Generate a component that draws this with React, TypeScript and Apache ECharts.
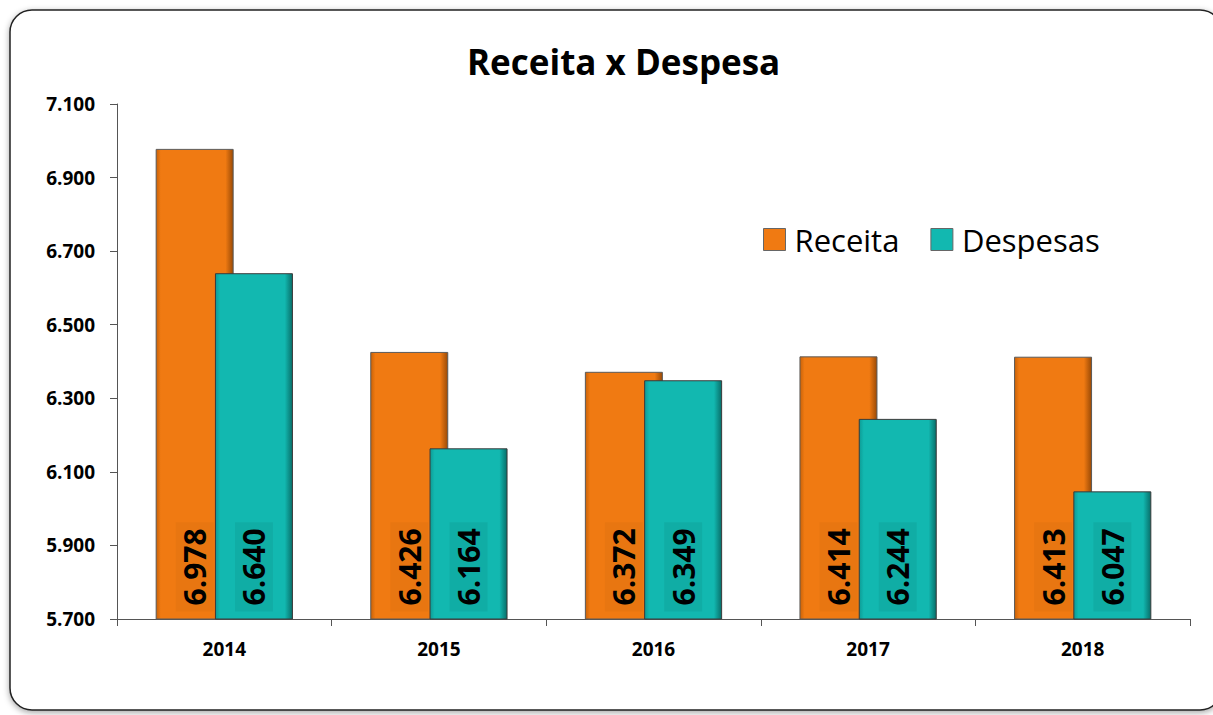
import React, { useEffect, useRef } from "react";
import * as echarts from "echarts";

const categories = ["2014", "2015", "2016", "2017", "2018"];
const receita = [6978, 6426, 6372, 6414, 6413];
const despesas = [6640, 6164, 6349, 6244, 6047];
const yMin = 5700;
const yMax = 7100;
const yStep = 200;
const titleText = "Receita x Despesa";

const FONT = "'Open Sans', 'Noto Sans', sans-serif";

function fmt(v: number): string {
  const s = String(Math.round(v));
  return s.replace(/\B(?=(\d{3})+(?!\d))/g, ".");
}

function barGradient(edgeL: string, mid: string, edgeR: string) {
  return new echarts.graphic.LinearGradient(0, 0, 1, 0, [
    { offset: 0, color: edgeL },
    { offset: 0.06, color: mid },
    { offset: 0.9, color: mid },
    { offset: 1, color: edgeR },
  ]);
}

export default function App() {
  const ref = useRef<HTMLDivElement>(null);

  useEffect(() => {
    document.body.style.margin = "0";
    const chart = echarts.init(ref.current!, null, { renderer: "svg" });

    const labelCommon = (bg: string) => ({
      show: true,
      position: "insideBottom" as const,
      rotate: 90,
      align: "left" as const,
      verticalAlign: "middle" as const,
      distance: 8,
      fontFamily: FONT,
      fontWeight: "bold" as const,
      fontSize: 30,
      color: "#000",
      backgroundColor: bg,
      padding: [4, 6, 4, 6],
      formatter: (p: any) => fmt(p.value),
    });

    chart.setOption({
      animation: false,
      backgroundColor: "#fff",
      graphic: [
        {
          type: "rect",
          z: -10,
          silent: true,
          shape: { x: 10, y: 10, width: 1212, height: 700, r: 22 },
          style: {
            fill: "#fff",
            stroke: "#222",
            lineWidth: 1.5,
            shadowBlur: 6,
            shadowColor: "rgba(0,0,0,0.35)",
            shadowOffsetX: 0,
            shadowOffsetY: 2,
          },
        },
      ],
      title: {
        text: titleText,
        left: 462,
        top: 39,
        textStyle: {
          fontFamily: FONT,
          fontWeight: "bold",
          fontSize: 35,
          color: "#000",
        },
      },
      legend: {
        left: 758,
        top: 219,
        itemWidth: 22,
        itemHeight: 22,
        itemGap: 31,
        icon: "rect",
        textStyle: {
          fontFamily: FONT,
          fontSize: 31,
          color: "#000",
          padding: [0, 0, 0, 4],
        },
        data: [
          { name: "Receita", itemStyle: { color: "#F07A12", borderColor: "#666", borderWidth: 1 } },
          { name: "Despesas", itemStyle: { color: "#12B8B0", borderColor: "#666", borderWidth: 1 } },
        ],
      },
      grid: { left: 117, right: 23, top: 104, bottom: 96 },
      xAxis: {
        type: "category",
        data: categories,
        axisLine: { lineStyle: { color: "#555", width: 1 } },
        axisTick: { show: true, length: 7, lineStyle: { color: "#555" } },
        axisLabel: {
          fontFamily: FONT,
          fontWeight: "bold",
          fontSize: 19,
          color: "#000",
          margin: 20,
        },
      },
      yAxis: {
        type: "value",
        min: yMin,
        max: yMax,
        interval: yStep,
        splitLine: { show: false },
        axisLine: { show: true, lineStyle: { color: "#555", width: 1 } },
        axisTick: { show: true, length: 7, lineStyle: { color: "#555" } },
        axisLabel: {
          fontFamily: FONT,
          fontWeight: "bold",
          fontSize: 19,
          color: "#000",
          margin: 22,
          formatter: (v: number) => fmt(v),
        },
      },
      series: [
        {
          name: "Receita",
          type: "bar",
          data: receita,
          barWidth: 78,
          barGap: "-24%",
          itemStyle: {
            color: barGradient("#c96208", "#F07A12", "#9a4a06"),
            borderColor: "#5a5a5a",
            borderWidth: 1,
          },
          label: labelCommon("rgba(0,0,0,0.03)"),
          z: 2,
        },
        {
          name: "Despesas",
          type: "bar",
          data: despesas,
          barWidth: 78,
          itemStyle: {
            color: barGradient("#0d9b95", "#12B8B0", "#086e69"),
            borderColor: "#3a3a3a",
            borderWidth: 1,
          },
          label: labelCommon("rgba(0,0,0,0.06)"),
          z: 3,
        },
      ],
    });

    return () => chart.dispose();
  }, []);

  return <div ref={ref} style={{ width: 1213, height: 715 }} />;
}
